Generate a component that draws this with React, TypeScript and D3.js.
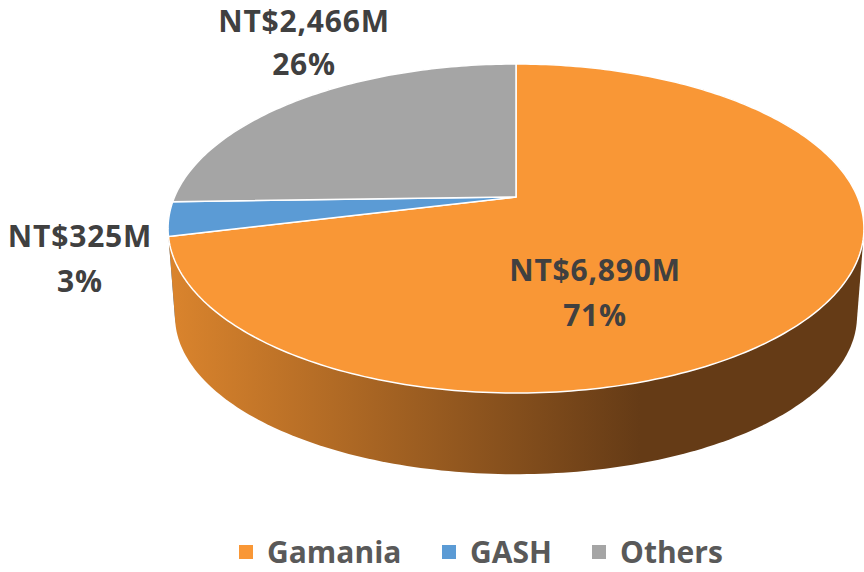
import * as d3 from 'd3';
import React from 'react';

// revenue split, NT$ millions
const categories = ['Gamania', 'GASH', 'Others'];
const revenues = [6890, 325, 2466];
const percentLabels = ['71%', '3%', '26%'];
const topColors = ['#F99736', '#5B9BD5', '#A5A5A5'];
const sideColors = [
  ['#DA842D', '#653B16'],
  ['#3F78AC', '#1F3E5C'],
  ['#8A8A8A', '#4A4A4A'],
];

const W = 864;
const H = 572;

// perspective disc: vertex, radii and foreshortening
const cx = 516;
const cyTop = 197;
const rx = 341.5;
const ry = 158.5;
const persp = 0.1915;
const cyBottom = 286;
const rxBottom = rx * 0.98;
const ryBottom = ry * 0.96;

const project = (angle: number, f: number, bottom: boolean): [number, number] => {
  const u = Math.sin(angle) * f;
  const v = -Math.cos(angle) * f;
  const d = 1 - persp * v;
  return bottom
    ? [cx + (rxBottom * u) / d, cyBottom + (ryBottom * v) / d]
    : [cx + (rx * u) / d, cyTop + (ry * v) / d];
};

const arcPoints = (a0: number, a1: number, bottom: boolean) => {
  const n = Math.max(2, Math.ceil(((a1 - a0) * 180) / Math.PI));
  return d3.range(n + 1).map(i => project(a0 + ((a1 - a0) * i) / n, 1, bottom));
};

// label anchors (centre x, first baseline)
const labelAnchors: [number, number][] = [
  [595, 281],
  [80, 247],
  [304, 32],
];
const legendX = [239, 442, 592];

const FONT = '"Open Sans", "Noto Sans", sans-serif';

export default function App() {
  const pie = d3.pie<number>().sort(null).startAngle(0).endAngle(2 * Math.PI);
  const arcs = pie(revenues);
  const line = d3.line();

  const slices = arcs.map((a, i) => {
    const top = arcPoints(a.startAngle, a.endAngle, false);
    const bot = arcPoints(a.startAngle, a.endAngle, true);
    const hull = d3.polygonHull([...top, ...bot]) as [number, number][];
    const face = line([project(0, 0, false), ...top])! + 'Z';
    const side = line(hull)! + 'Z';
    const front = d3.max(bot, p => p[1])!;
    return { i, face, side, front };
  });
  const sideOrder = [...slices].sort((p, q) => p.front - q.front);
  const fmt = d3.format(',');

  return (
    <svg width={W} height={H} style={{ position: 'absolute', left: 0, top: 0, background: '#fff' }}>
      <defs>
        {sideColors.map((c, i) => (
          <linearGradient key={i} id={`side${i}`} gradientUnits="userSpaceOnUse" x1={170} y1={0} x2={640} y2={0}>
            <stop offset="0" stopColor={c[0]} />
            <stop offset="1" stopColor={c[1]} />
          </linearGradient>
        ))}
      </defs>
      {sideOrder.map(s => (
        <path key={`s${s.i}`} d={s.side} fill={`url(#side${s.i})`} />
      ))}
      {slices.map(s => (
        <path key={`f${s.i}`} d={s.face} fill={topColors[s.i]} stroke="#fff" strokeWidth={1.5} strokeLinejoin="round" />
      ))}
      {categories.map((c, i) => (
        <text
          key={`l${i}`}
          x={labelAnchors[i][0]}
          y={labelAnchors[i][1]}
          textAnchor="middle"
          fontFamily={FONT}
          fontWeight="bold"
          fontSize={30}
          letterSpacing={0.8}
          fill="#404040"
        >
          <tspan x={labelAnchors[i][0]}>{`NT$${fmt(revenues[i])}M`}</tspan>
          <tspan x={labelAnchors[i][0]} dy={i === 2 ? 43 : 45}>{percentLabels[i]}</tspan>
        </text>
      ))}
      {categories.map((c, i) => (
        <g key={`g${i}`} transform={`translate(${legendX[i]},0)`}>
          <rect x={0} y={545} width={14} height={14} fill={topColors[i]} />
          <text x={28} y={563} fontFamily={FONT} fontWeight="bold" fontSize={30} fill="#595959">
            {c}
          </text>
        </g>
      ))}
    </svg>
  );
}
